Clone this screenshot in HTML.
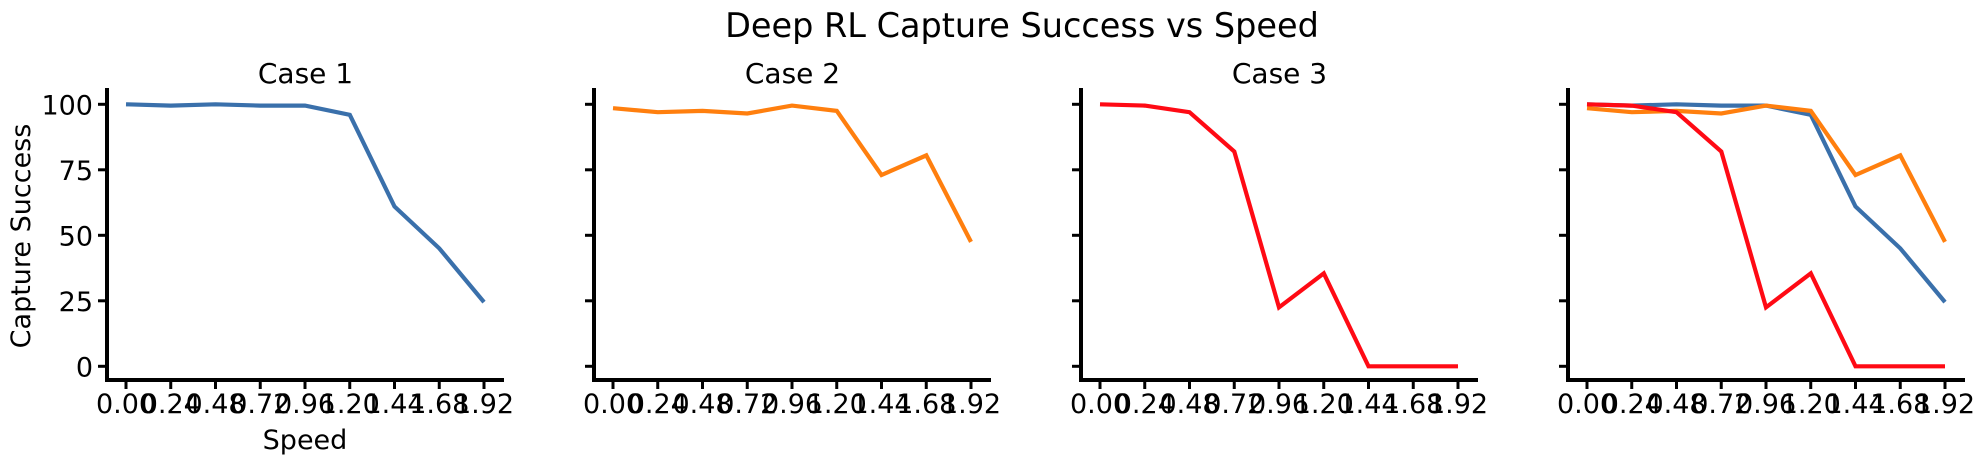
<!DOCTYPE html>
<html><head><meta charset="utf-8"><style>
body{margin:0;background:#fff;}
svg{display:block;font-family:"DejaVu Sans","Liberation Sans",sans-serif;}
</style></head><body>
<svg id="chart" width="1984" height="463" viewBox="0 0 1984 463" xmlns="http://www.w3.org/2000/svg">
<text x="1022" y="37" font-size="33.5" text-anchor="middle">Deep RL Capture Success vs Speed</text>
<text transform="translate(30,236) rotate(-90)" font-size="27" text-anchor="middle">Capture Success</text>
<text x="305" y="449" font-size="27" text-anchor="middle">Speed</text>
<g id="plots"></g>
</svg>
<script>
const speeds = [0.00,0.24,0.48,0.72,0.96,1.20,1.44,1.68,1.92];
const xTickLabels = ["0.00","0.24","0.48","0.72","0.96","1.20","1.44","1.68","1.92"];
const yTicks = [0,25,50,75,100];
const case1 = [100,99.5,100,99.5,99.5,96,61,45,24.5];
const case2 = [98.5,97,97.5,96.5,99.5,97.5,73,80.5,47.5];
const case3 = [100,99.5,97,82,22.5,35.5,0,0,0];
const panelTitles = ["Case 1","Case 2","Case 3",""];
const colors = ["#3a70ab","#ff7f0e","#ff0a14"];
const panelSeries = [[0],[1],[2],[0,1,2]];
const allSeries = [case1,case2,case3];
const NS="http://www.w3.org/2000/svg";
const plotsG=document.getElementById('plots');
function mk(t,a){const e=document.createElementNS(NS,t);for(const k in a)e.setAttribute(k,a[k]);return e;}
const left0=107, step=487, axW=397, axTop=88, axBottom=380;
function yS(v){return 366.3-(v)*(366.3-104.3)/100;}
for(let p=0;p<4;p++){
  const L=left0+p*step;
  const xS=v=>L+19+v*(358/1.92);
  const grp=mk('g',{});
  
  
  plotsG.appendChild(grp);
  if(panelTitles[p]){
    const t=mk('text',{x:L+axW/2,y:83,'font-size':28,'text-anchor':'middle'});
    
    
    t.textContent=panelTitles[p];grp.appendChild(t);
  }
  speeds.forEach((s,i)=>{
    const tk=mk('line',{x1:xS(s),x2:xS(s),y1:axBottom,y2:axBottom+9,stroke:'#000','stroke-width':3});
    
    
    grp.appendChild(tk);
    const tl=mk('text',{x:xS(s),y:413,'font-size':27,'text-anchor':'middle'});
    
    
    tl.textContent=xTickLabels[i];grp.appendChild(tl);
  });
  yTicks.forEach(v=>{
    const tk=mk('line',{x1:L-9,x2:L,y1:yS(v),y2:yS(v),stroke:'#000','stroke-width':3});
    
    
    grp.appendChild(tk);
    if(p===0){
      const tl=mk('text',{x:L-14,y:yS(v)+10,'font-size':27,'text-anchor':'end'});
      
      
      tl.textContent=v;grp.appendChild(tl);
    }
  });
  panelSeries[p].forEach(si=>{
    const d=allSeries[si].map((v,i)=>(i?'L':'M')+xS(speeds[i]).toFixed(1)+','+yS(v).toFixed(1)).join(' ');
    const pa=mk('path',{d:d,fill:'none',stroke:colors[si],'stroke-width':4.2,'stroke-linejoin':'miter'});
    
    
    grp.appendChild(pa);
  });
  const ys=mk('line',{x1:L,x2:L,y1:axTop,y2:axBottom+2,stroke:'#000','stroke-width':4});
  
  
  grp.appendChild(ys);
  const xs=mk('line',{x1:L-2,x2:L+axW,y1:axBottom,y2:axBottom,stroke:'#000','stroke-width':4});
  
  
  grp.appendChild(xs);
}
</script>
</body></html>
